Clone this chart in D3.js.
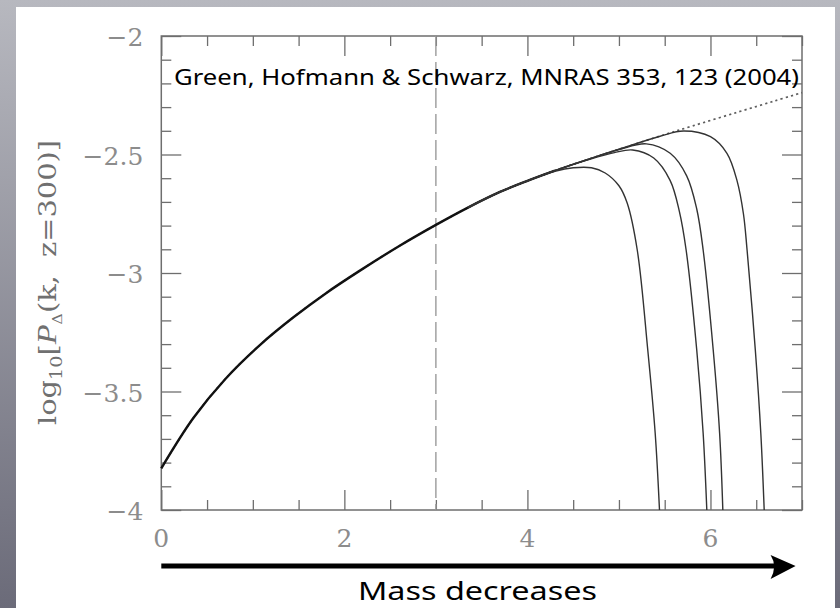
<!DOCTYPE html>
<html>
<head>
<meta charset="utf-8">
<script src="https://cdn.jsdelivr.net/npm/d3@7"></script>
<style>
  html, body { margin: 0; padding: 0; background: #fff; }
  svg { display: block; }
</style>
</head>
<body>
<svg id="chart" width="840" height="608"></svg>
<script>
// ---------------- data ----------------
// underlying (no cutoff) spectrum, drawn dotted
const baseX = [0, 0.35, 0.7, 1.08, 1.44, 1.8, 2.17, 2.6, 3.0, 3.35, 3.7, 4.0, 4.3, 4.65, 5.0, 5.45, 5.8, 6.3, 6.7, 7.0];
const baseY = [-3.824, -3.612, -3.447, -3.303, -3.188, -3.085, -2.990, -2.886, -2.797, -2.724, -2.658, -2.611, -2.568, -2.522, -2.478, -2.422, -2.380, -2.321, -2.274, -2.239];
// spectra with damping cutoffs
const cut1X = [3.35, 3.7, 4.0, 4.3, 4.5, 4.7, 4.85, 5.0, 5.09, 5.2, 5.315, 5.396, 5.443];
const cut1Y = [-2.724, -2.658, -2.611, -2.571, -2.556, -2.556, -2.578, -2.632, -2.705, -2.903, -3.325, -3.676, -4.0];
const cut2X = [3.35, 3.7, 4.0, 4.3, 4.65, 4.95, 5.15, 5.38, 5.56, 5.66, 5.734, 5.85, 5.92, 5.96];
const cut2Y = [-2.724, -2.658, -2.611, -2.568, -2.524, -2.492, -2.481, -2.515, -2.61, -2.74, -2.903, -3.325, -3.676, -4.0];
const cut3X = [3.35, 3.7, 4.0, 4.3, 4.65, 5.0, 5.30, 5.56, 5.74, 5.85, 5.92, 6.03, 6.10, 6.135];
const cut3Y = [-2.724, -2.658, -2.611, -2.568, -2.522, -2.479, -2.455, -2.495, -2.59, -2.73, -2.903, -3.325, -3.676, -4.0];
const cut4X = [3.35, 3.7, 4.0, 4.3, 4.65, 5.0, 5.45, 5.705, 6.0, 6.18, 6.29, 6.36, 6.40, 6.49, 6.55, 6.587];
const cut4Y = [-2.724, -2.658, -2.611, -2.568, -2.522, -2.478, -2.423, -2.401, -2.425, -2.495, -2.61, -2.75, -2.903, -3.325, -3.676, -4.0];
const markerX = 3;
const xTickValues = [0, 2, 4, 6];
const xTickLabels = ["0", "2", "4", "6"];
const yTickValues = [-2, -2.5, -3, -3.5, -4];
const yTickLabels = ["\u22122", "\u22122.5", "\u22123", "\u22123.5", "\u22124"];
const citation = "Green, Hofmann & Schwarz, MNRAS 353, 123 (2004)";
const arrowLabel = "Mass decreases";

// ---------------- layout ----------------
const W = 840, H = 608;
const margin = { left: 161.3, right: 38, top: 36, bottom: 98 };
const svg = d3.select("#chart");

const defs = svg.append("defs");
const grad = defs.append("linearGradient").attr("id", "bg").attr("x1", 0).attr("y1", 0).attr("x2", 0).attr("y2", 1);
grad.append("stop").attr("offset", "0%").attr("stop-color", "#b7b8bf");
grad.append("stop").attr("offset", "100%").attr("stop-color", "#6b6b79");
svg.append("rect").attr("width", W).attr("height", H).attr("fill", "url(#bg)");
svg.append("rect").attr("x", 16).attr("y", 7).attr("width", 819).attr("height", H - 7).attr("fill", "#fff");

const x = d3.scaleLinear().domain([0, 7]).range([margin.left, W - margin.right]);
const y = d3.scaleLinear().domain([-4, -2]).range([H - margin.bottom, margin.top]);
const x0 = x.range()[0], x1 = x.range()[1], y0 = y.range()[0], y1 = y.range()[1];

const axisColor = "#6e6e6e";
const g = svg.append("g");

function styleAxis(sel) {
  sel.select(".domain").remove();
  sel.selectAll("line").attr("stroke", axisColor).attr("stroke-width", 1.3);
  sel.selectAll("text").remove();
}
const xMinor = d3.range(0, 7.01, 0.5).filter(v => !xTickValues.includes(v));
const yMinor = d3.range(-4, -1.99, 0.1).map(v => +v.toFixed(2)).filter(v => !yTickValues.includes(v));

g.append("g").attr("transform", `translate(0,${y0})`).call(d3.axisBottom(x).tickValues(xMinor).tickSize(-10)).call(styleAxis);
g.append("g").attr("transform", `translate(0,${y0})`).call(d3.axisBottom(x).tickValues(xTickValues).tickSize(-20)).call(styleAxis);
g.append("g").attr("transform", `translate(0,${y1})`).call(d3.axisTop(x).tickValues(xMinor).tickSize(-10)).call(styleAxis);
g.append("g").attr("transform", `translate(0,${y1})`).call(d3.axisTop(x).tickValues(xTickValues).tickSize(-20)).call(styleAxis);
g.append("g").attr("transform", `translate(${x0},0)`).call(d3.axisLeft(y).tickValues(yMinor).tickSize(-10)).call(styleAxis);
g.append("g").attr("transform", `translate(${x0},0)`).call(d3.axisLeft(y).tickValues(yTickValues).tickSize(-20)).call(styleAxis);
g.append("g").attr("transform", `translate(${x1},0)`).call(d3.axisRight(y).tickValues(yMinor).tickSize(-10)).call(styleAxis);
g.append("g").attr("transform", `translate(${x1},0)`).call(d3.axisRight(y).tickValues(yTickValues).tickSize(-20)).call(styleAxis);

// frame
g.append("rect").attr("x", x0).attr("y", y1).attr("width", x1 - x0).attr("height", y0 - y1)
  .attr("fill", "none").attr("stroke", axisColor).attr("stroke-width", 1.5);

// tick labels
g.selectAll(".xl").data(xTickValues).join("text")
  .attr("x", d => x(d)).attr("y", y0 + 37)
  .attr("text-anchor", "middle")
  .attr("font-family", "DejaVu Serif").attr("font-size", 25).attr("fill", "#8c8c8c")
  .text((d, i) => xTickLabels[i]);
g.selectAll(".yl").data(yTickValues).join("text")
  .attr("x", x0 - 18).attr("y", d => y(d) + 10)
  .attr("text-anchor", "end")
  .attr("font-family", "DejaVu Serif").attr("font-size", 25).attr("fill", "#8c8c8c")
  .text((d, i) => yTickLabels[i]);

// y axis label
const yl = g.append("text")
  .attr("transform", `translate(56,${(140 + 425) / 2}) rotate(-90)`)
  .attr("text-anchor", "middle")
  .attr("font-family", "DejaVu Serif").attr("font-size", 24).attr("fill", "#707070")
  .attr("textLength", 285).attr("lengthAdjust", "spacingAndGlyphs");
yl.append("tspan").text("log");
yl.append("tspan").attr("font-size", 16).attr("dy", 6).text("10");
yl.append("tspan").attr("dy", -6).text("[");
yl.append("tspan").attr("font-family", "Liberation Serif").attr("font-style", "italic").attr("font-size", 27).text("P");
yl.append("tspan").attr("font-size", 13).attr("dy", 6).text("\u0394");
yl.append("tspan").attr("dy", -6).text("(k,\u00a0\u00a0z=300)]");

// dashed marker line
g.append("line").attr("x1", x(markerX)).attr("x2", x(markerX)).attr("y1", y1).attr("y2", y0)
  .attr("stroke", "#9a9a9a").attr("stroke-width", 1.4).attr("stroke-dasharray", "20,6");

const line = d3.line().x(d => x(d[0])).y(d => y(d[1])).curve(d3.curveCatmullRom.alpha(0.5));
const zip = (a, b) => a.map((v, i) => [v, b[i]]);

// dotted uncut spectrum
g.append("path").attr("d", line(zip(baseX, baseY)))
  .attr("fill", "none").attr("stroke", "#5e5e5e").attr("stroke-width", 1.7).attr("stroke-dasharray", "2.2,3.2");

// shared solid part
const shared = zip(baseX, baseY).filter(d => d[0] <= 4.3);
g.append("path").attr("d", line(shared))
  .attr("fill", "none").attr("stroke", "#111").attr("stroke-width", 2.4);

// cutoff curves
[[cut1X, cut1Y], [cut2X, cut2Y], [cut3X, cut3Y], [cut4X, cut4Y]].forEach(([cx, cy]) => {
  g.append("path").attr("d", line(zip(cx, cy)))
    .attr("fill", "none").attr("stroke", "#333").attr("stroke-width", 1.4);
});

// citation
g.append("text").attr("x", 174).attr("y", 85)
  .attr("font-family", "Noto Sans").attr("font-size", 21).attr("fill", "#000")
  .attr("textLength", 625).attr("lengthAdjust", "spacingAndGlyphs")
  .text(citation);

// arrow
const ay = 566;
const ax0 = x(0), axTip = x(6.93);
g.append("line").attr("x1", ax0).attr("x2", axTip - 20).attr("y1", ay).attr("y2", ay)
  .attr("stroke", "#000").attr("stroke-width", 5);
g.append("path")
  .attr("d", `M${axTip},${ay} L${axTip - 25},${ay - 11} Q${axTip - 18},${ay} ${axTip - 25},${ay + 13} Z`)
  .attr("fill", "#000");

g.append("text").attr("x", 358).attr("y", 600)
  .attr("font-family", "Noto Sans").attr("font-size", 26).attr("fill", "#000")
  .attr("textLength", 239).attr("lengthAdjust", "spacingAndGlyphs")
  .text(arrowLabel);
</script>
</body>
</html>
